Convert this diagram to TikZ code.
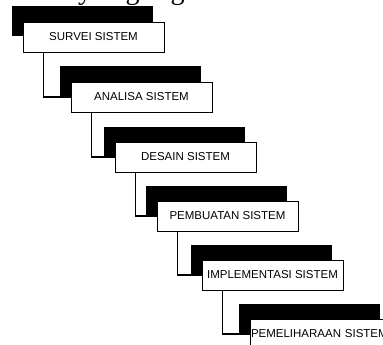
\documentclass[tikz,border=0pt]{standalone}
\usepackage{fontspec}
\setmainfont{Liberation Serif}
\setsansfont{Liberation Sans}
\usetikzlibrary{shadows}

\tikzset{
  tahap/.style={draw, fill=white, line width=0.7pt, minimum width=141pt, minimum height=30pt,
    inner sep=1pt, font=\sffamily\fontsize{11.5}{13}\selectfont,
    general shadow={fill=black, shadow xshift=-11.5pt, shadow yshift=15.5pt}},
  alur/.style={line width=1.2pt},
  potong/.style={anchor=base, inner sep=0pt, font=\fontsize{28}{30}\selectfont}
}

\begin{document}
\begin{tikzpicture}[x=1pt,y=-1pt]
				
				\useasboundingbox (0,0) rectangle (383,345);
				\clip (0,0) rectangle (383,345);
				
				% sisa baris teks di atas
				\node[potong] (h1) at (85,-0.5) {y};
				\node[potong] (h2) at (132.5,-0.5) {g};
				\node[potong] (h3) at (177.5,-0.5) {g};
				
				\node[tahap] (b1) at (93.5,37) {SURVEI SISTEM};
				\node[tahap] (b2) at (141.5,97) {ANALISA SISTEM};
				\node[tahap] (b3) at (185.5,157) {DESAIN SISTEM};
				\node[tahap] (b4) at (227.5,216) {PEMBUATAN SISTEM};
				\node[tahap] (b5) at (272.5,275) {IMPLEMENTASI SISTEM};
				\node[tahap, text width=139pt, align=left] (b6) at (320.5,334) {PEMELIHARAAN SISTEM};
				
				\draw[alur] ([xshift=21pt]b1.south west) |- (b2.west);
				\draw[alur] ([xshift=21pt]b2.south west) |- (b3.west);
				\draw[alur] ([xshift=21pt]b3.south west) |- (b4.west);
				\draw[alur] ([xshift=21pt]b4.south west) |- (b5.west);
				\draw[alur] ([xshift=21pt]b5.south west) |- (b6.west);
				
			\end{tikzpicture}
\end{document}
